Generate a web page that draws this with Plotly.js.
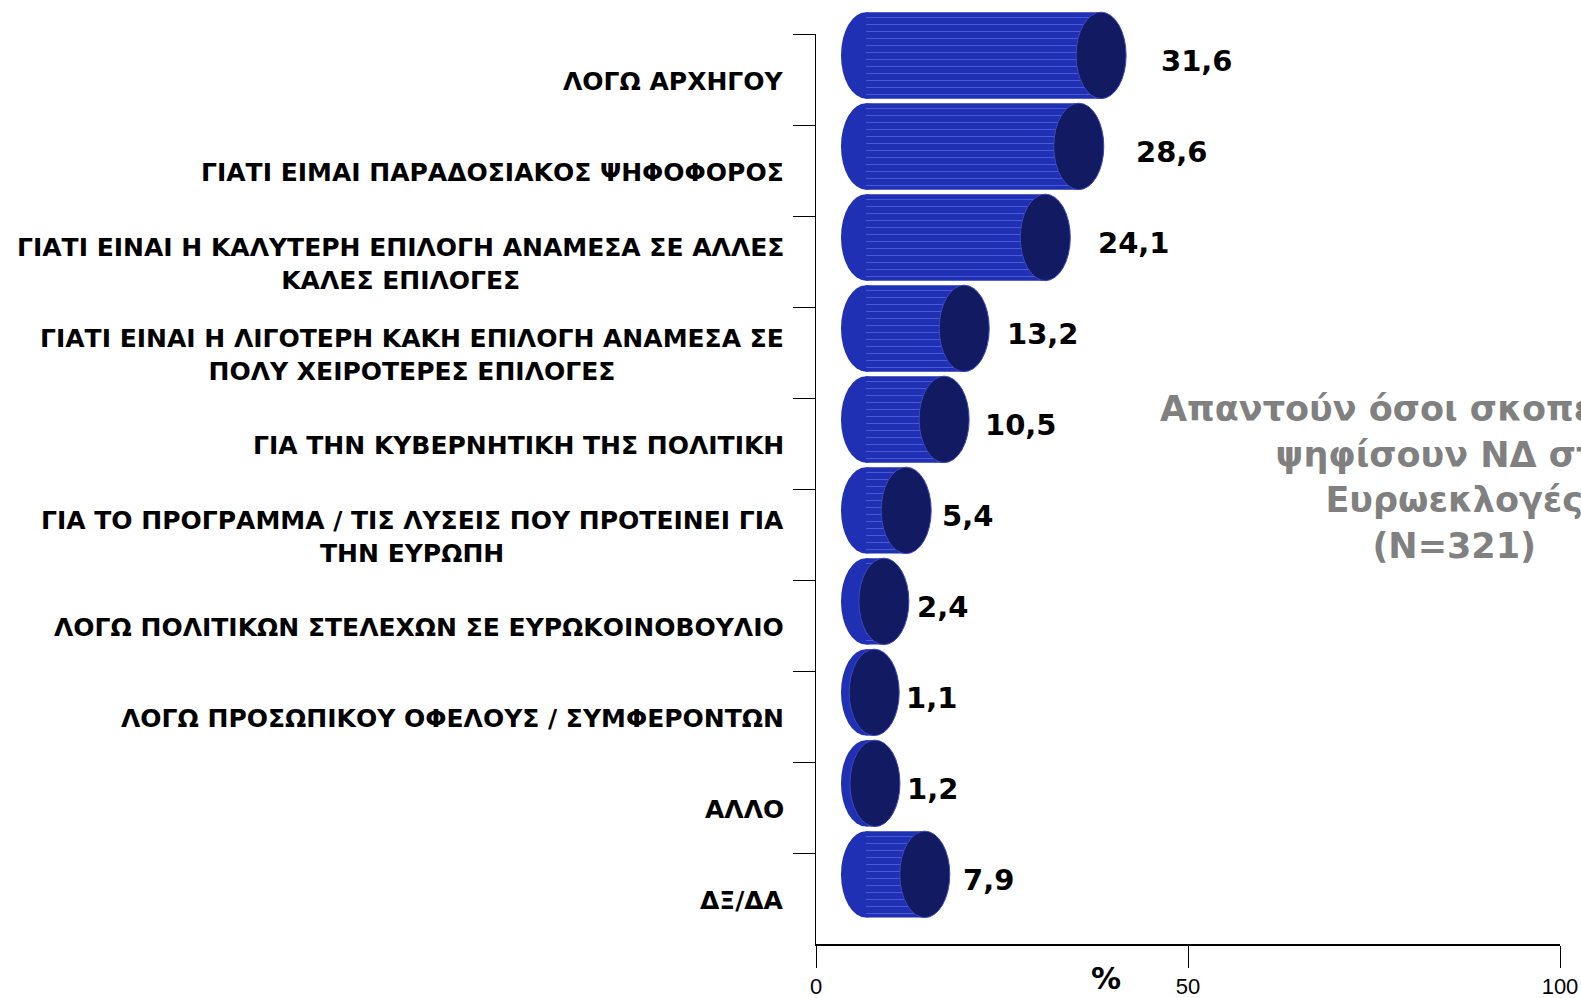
<!DOCTYPE html>
<html>
<head>
<meta charset="utf-8">
<script src="https://cdn.plot.ly/plotly-3.0.1.min.js"></script>
<style>
  html, body { margin: 0; padding: 0; background: #fff; }
  #chart { width: 1581px; height: 998px; }
</style>
</head>
<body>
<div id="chart"></div>
<script>
var categories = [
  'ΛΟΓΩ ΑΡΧΗΓΟΥ',
  'ΓΙΑΤΙ ΕΙΜΑΙ ΠΑΡΑΔΟΣΙΑΚΟΣ ΨΗΦΟΦΟΡΟΣ',
  'ΓΙΑΤΙ ΕΙΝΑΙ Η ΚΑΛΥΤΕΡΗ ΕΠΙΛΟΓΗ ΑΝΑΜΕΣΑ ΣΕ ΑΛΛΕΣ<br>ΚΑΛΕΣ ΕΠΙΛΟΓΕΣ',
  'ΓΙΑΤΙ ΕΙΝΑΙ Η ΛΙΓΟΤΕΡΗ ΚΑΚΗ ΕΠΙΛΟΓΗ ΑΝΑΜΕΣΑ ΣΕ<br>ΠΟΛΥ ΧΕΙΡΟΤΕΡΕΣ ΕΠΙΛΟΓΕΣ',
  'ΓΙΑ ΤΗΝ ΚΥΒΕΡΝΗΤΙΚΗ ΤΗΣ ΠΟΛΙΤΙΚΗ',
  'ΓΙΑ ΤΟ ΠΡΟΓΡΑΜΜΑ / ΤΙΣ ΛΥΣΕΙΣ ΠΟΥ ΠΡΟΤΕΙΝΕΙ ΓΙΑ<br>ΤΗΝ ΕΥΡΩΠΗ',
  'ΛΟΓΩ ΠΟΛΙΤΙΚΩΝ ΣΤΕΛΕΧΩΝ ΣΕ ΕΥΡΩΚΟΙΝΟΒΟΥΛΙΟ',
  'ΛΟΓΩ ΠΡΟΣΩΠΙΚΟΥ ΟΦΕΛΟΥΣ / ΣΥΜΦΕΡΟΝΤΩΝ',
  'ΑΛΛΟ',
  'ΔΞ/ΔΑ'
];
var values = [31.6, 28.6, 24.1, 13.2, 10.5, 5.4, 2.4, 1.1, 1.2, 7.9];
var xTicks = [0, 50, 100];
var note = 'Απαντούν όσοι σκοπεύουν να<br>ψηφίσουν ΝΔ στις<br>Ευρωεκλογές<br>(N=321)';

var bodyColor = '#2030b4';
var capColor = '#121a62';
var labelFont = 'DejaVu Sans, Verdana, sans-serif';

var pxPerUnit = 744 / 100;   // plot is 744px wide for 0..100
var depth = 50 / pxPerUnit;  // 3d shift of the cylinders to the right
var capHalf = 25 / pxPerUnit;

// position of each bar on the (hidden) 3d-shifted axes
var idx = categories.map(function (c, i) { return i; });

// the axis frame (categories on main y)
var frame = {
  x: values,
  y: categories,
  type: 'scatter',
  mode: 'markers',
  marker: { opacity: 0 },
  hoverinfo: 'skip',
  showlegend: false
};

// cylinder bodies, drawn on axes shifted right/up to fake the depth
var bars = {
  x: values,
  y: idx,
  type: 'bar',
  orientation: 'h',
  width: 0.95,
  xaxis: 'x2',
  yaxis: 'y2',
  marker: {
    color: bodyColor,
    line: { width: 0 },
    pattern: { shape: '-', bgcolor: bodyColor, fgcolor: '#4a5ad2', size: 7, solidity: 0.15 }
  },
  hoverinfo: 'x',
  showlegend: false
};

var shapes = [];
var annotations = [];

idx.forEach(function (i) {
  var v = values[i];
  // rounded back end
  shapes.push({
    type: 'circle', xref: 'x2', yref: 'y2', layer: 'below',
    x0: -capHalf, x1: capHalf, y0: i - 0.475, y1: i + 0.475,
    fillcolor: bodyColor, line: { width: 0 }
  });
  // dark front cap
  shapes.push({
    type: 'circle', xref: 'x2', yref: 'y2', layer: 'above',
    x0: v - capHalf, x1: v + capHalf, y0: i - 0.475, y1: i + 0.475,
    fillcolor: capColor, line: { color: '#3848c0', width: 1 }
  });
  // value labels (the gap grows a little with the bar length)
  annotations.push({
    xref: 'x2', yref: 'y2', x: v, y: i,
    xanchor: 'left', yanchor: 'middle', xshift: 29 + 0.9 * v, yshift: -6,
    text: v.toFixed(1).replace('.', ','),
    showarrow: false,
    font: { family: labelFont, size: 29, color: '#000', weight: 'bold' }
  });
  // category labels
  annotations.push({
    xref: 'paper', yref: 'y', x: -0.04, y: i, yshift: -2,
    xanchor: 'right', yanchor: 'middle', align: 'center',
    text: categories[i],
    showarrow: false,
    font: { family: labelFont, size: 25, color: '#000', weight: 'bold' }
  });
});

annotations.push({
  xref: 'paper', yref: 'paper', x: 0.858, y: 0.494,
  xanchor: 'center', yanchor: 'middle', align: 'center',
  text: note, showarrow: false,
  font: { family: labelFont, size: 35, color: '#808080', weight: 'bold' }
});
annotations.push({
  xref: 'paper', yref: 'paper', x: (1106 - 816) / 744, y: 0,
  xanchor: 'center', yanchor: 'middle', yshift: -34,
  text: '%', showarrow: false,
  font: { family: labelFont, size: 30, color: '#000', weight: 'bold' }
});

var layout = {
  width: 1581,
  height: 998,
  autosize: false,
  showlegend: false,
  paper_bgcolor: '#fff',
  plot_bgcolor: 'rgba(0,0,0,0)',
  margin: { l: 816, r: 21, t: 0, b: 54 },
  xaxis: {
    range: [0, 100],
    tickvals: xTicks,
    ticks: 'outside',
    ticklen: 22,
    tickcolor: '#000',
    ticklabelstandoff: 0,
    ticklabeloverflow: 'allow',
    showline: true,
    linecolor: '#000',
    linewidth: 1.5,
    showgrid: false,
    zeroline: false,
    tickfont: { family: 'Liberation Sans Narrow, Liberation Sans, sans-serif', size: 22, color: '#000' },
    fixedrange: true
  },
  yaxis: {
    type: 'category',
    categoryorder: 'array',
    categoryarray: categories,
    range: [9.5, -0.5],
    domain: [0, 910 / 944],
    tickson: 'boundaries',
    ticks: 'outside',
    ticklen: 22,
    tickcolor: '#000',
    showticklabels: false,
    showline: true,
    linecolor: '#000',
    linewidth: 1,
    showgrid: false,
    zeroline: false,
    fixedrange: true
  },
  xaxis2: {
    domain: [0, 1],
    anchor: 'y2',
    range: [-depth, 100 - depth],
    visible: false,
    fixedrange: true
  },
  yaxis2: {
    domain: [0, 1],
    anchor: 'x2',
    range: [9.765, -0.609],
    visible: false,
    fixedrange: true
  },
  shapes: shapes,
  annotations: annotations
};

Plotly.newPlot('chart', [frame, bars], layout, { displayModeBar: false, staticPlot: true });
</script>
</body>
</html>
